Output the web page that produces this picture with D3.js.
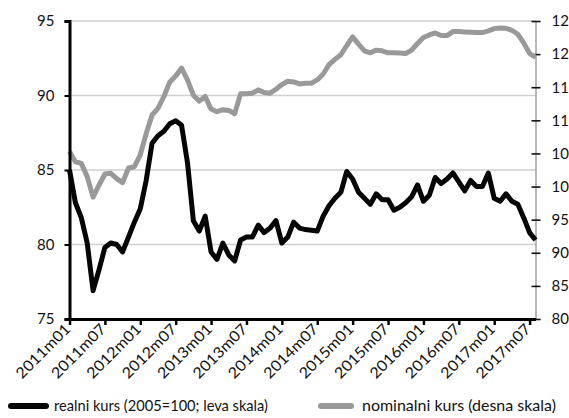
<!DOCTYPE html>
<html><head><meta charset="utf-8">
<script src="https://cdn.jsdelivr.net/npm/d3@7"></script>
<style>body{margin:0;background:#fff}svg{display:block}text{font-family:Lato,"Open Sans",sans-serif;fill:#111}</style>
</head><body><svg id="c" width="569" height="418"></svg>
<script>
const startYear = 2011, nMonths = 80;
const real = [85.0,82.8,81.8,80.1,76.9,78.3,79.8,80.1,80.0,79.5,80.5,81.5,82.4,84.3,86.8,87.3,87.6,88.1,88.3,88.0,85.5,81.6,80.9,81.9,
79.5,79.0,80.1,79.3,78.9,80.3,80.5,80.5,81.3,80.8,81.1,81.6,80.1,80.5,81.5,81.1,81.0,80.95,80.9,81.9,82.6,83.1,83.5,84.9,
84.4,83.5,83.1,82.7,83.4,83.0,83.0,82.3,82.5,82.8,83.2,84.0,82.9,83.3,84.5,84.1,84.4,84.8,84.2,83.6,84.3,83.9,83.9,84.8,
83.1,82.9,83.4,82.9,82.7,81.8,80.8,80.3];
const nominal = [105.3,103.75,103.5,101.5,98.4,100.2,101.9,102.0,101.2,100.6,102.8,103.0,104.8,108.0,110.8,111.8,113.6,115.8,116.7,117.9,116.1,113.8,112.9,113.6,
111.7,111.3,111.6,111.5,111.0,114.0,114.0,114.1,114.6,114.2,114.1,114.7,115.4,115.9,115.8,115.5,115.6,115.6,116.1,117.0,118.4,119.2,119.9,121.3,
122.6,121.5,120.5,120.2,120.6,120.5,120.2,120.2,120.15,120.1,120.6,121.6,122.5,122.9,123.2,122.8,122.8,123.4,123.4,123.35,123.3,123.25,123.25,123.5,
123.85,123.95,123.9,123.6,123.0,121.7,120.1,119.5];
const months = d3.range(nMonths).map(i => `${startYear + Math.floor(i/12)}m${String(i%12+1).padStart(2,"0")}`);
const leftTicks = [75,80,85,90,95];
const rightTicks = [80,85,90,95,100,105,110,115,120,125];
const gridValues = [80,85,90,95];
const seriesNames = ["realni kurs (2005=100; leva skala)","nominalni kurs (desna skala)"];

const svg = d3.select("#c");
const L = 69.5, R = 535.5, T = 21, B = 319;
const x = d3.scaleLinear().domain([0, nMonths-1]).range([L, R]);
const yL = d3.scaleLinear().domain([75,95]).range([B, T]);
const yR = d3.scaleLinear().domain([80,125]).range([B, T]);

// gridlines
svg.append("g").selectAll("line").data(gridValues).join("line")
  .attr("x1", L).attr("x2", R).attr("y1", d=>yL(d)).attr("y2", d=>yL(d))
  .attr("stroke", "#cfcfcf").attr("stroke-width", 1.5);

// right axis
const gR = svg.append("g").attr("transform", `translate(${R},0)`)
  .call(d3.axisRight(yR).tickValues(rightTicks).tickSize(5).tickPadding(11));
gR.select(".domain").attr("stroke", "#888").attr("stroke-width", 1.2);
gR.selectAll(".tick line").attr("x1", -4).attr("x2", 5).attr("stroke", "#111").attr("stroke-width", 1.6);
gR.selectAll("text").attr("font-size", 15).attr("fill", "#111");

// lines
svg.append("path").datum(nominal)
  .attr("d", d3.line().x((d,i)=>x(i)).y(d=>yR(d)))
  .attr("fill","none").attr("stroke","#999999").attr("stroke-width",5).attr("stroke-linejoin","round");
svg.append("path").datum(real)
  .attr("d", d3.line().x((d,i)=>x(i)).y(d=>yL(d)))
  .attr("fill","none").attr("stroke","#050505").attr("stroke-width",5).attr("stroke-linejoin","round");

// left axis
const gL = svg.append("g").attr("transform", `translate(${L},0)`)
  .call(d3.axisLeft(yL).tickValues(leftTicks).tickSize(5).tickPadding(10));
gL.select(".domain").attr("stroke", "#000").attr("stroke-width", 3);
gL.selectAll(".tick line").attr("stroke", "#000").attr("stroke-width", 2);
gL.selectAll("text").attr("font-size", 15).attr("fill", "#111");

// bottom axis
const tickIdx = d3.range(0, nMonths, 6);
const gB = svg.append("g").attr("transform", `translate(0,${B})`)
  .call(d3.axisBottom(x).tickValues(tickIdx).tickFormat("").tickSize(6).tickSizeOuter(0));
gB.select(".domain").attr("stroke", "#000").attr("stroke-width", 3);
gB.selectAll(".tick line").attr("stroke", "#000").attr("stroke-width", 2.5);

svg.append("g").selectAll("text").data(tickIdx).join("text")
  .attr("text-anchor", "end").attr("font-size", 15)
  .attr("transform", i => `translate(${x(i)+2},${B+11}) rotate(-45)`)
  .attr("textLength", 70).attr("lengthAdjust", "spacingAndGlyphs")
  .text(i => months[i]);

// legend
const lg = svg.append("g");
lg.append("line").attr("x1",11).attr("x2",46).attr("y1",406).attr("y2",406).attr("stroke","#050505").attr("stroke-width",6).attr("stroke-linecap","round");
lg.append("text").attr("x",54).attr("y",411).attr("font-size",15).attr("textLength",214).attr("lengthAdjust","spacingAndGlyphs").text(seriesNames[0]);
lg.append("line").attr("x1",321).attr("x2",351).attr("y1",406).attr("y2",406).attr("stroke","#999999").attr("stroke-width",6).attr("stroke-linecap","round");
lg.append("text").attr("x",362).attr("y",411).attr("font-size",15).attr("textLength",194).attr("lengthAdjust","spacingAndGlyphs").text(seriesNames[1]);
</script></body></html>
